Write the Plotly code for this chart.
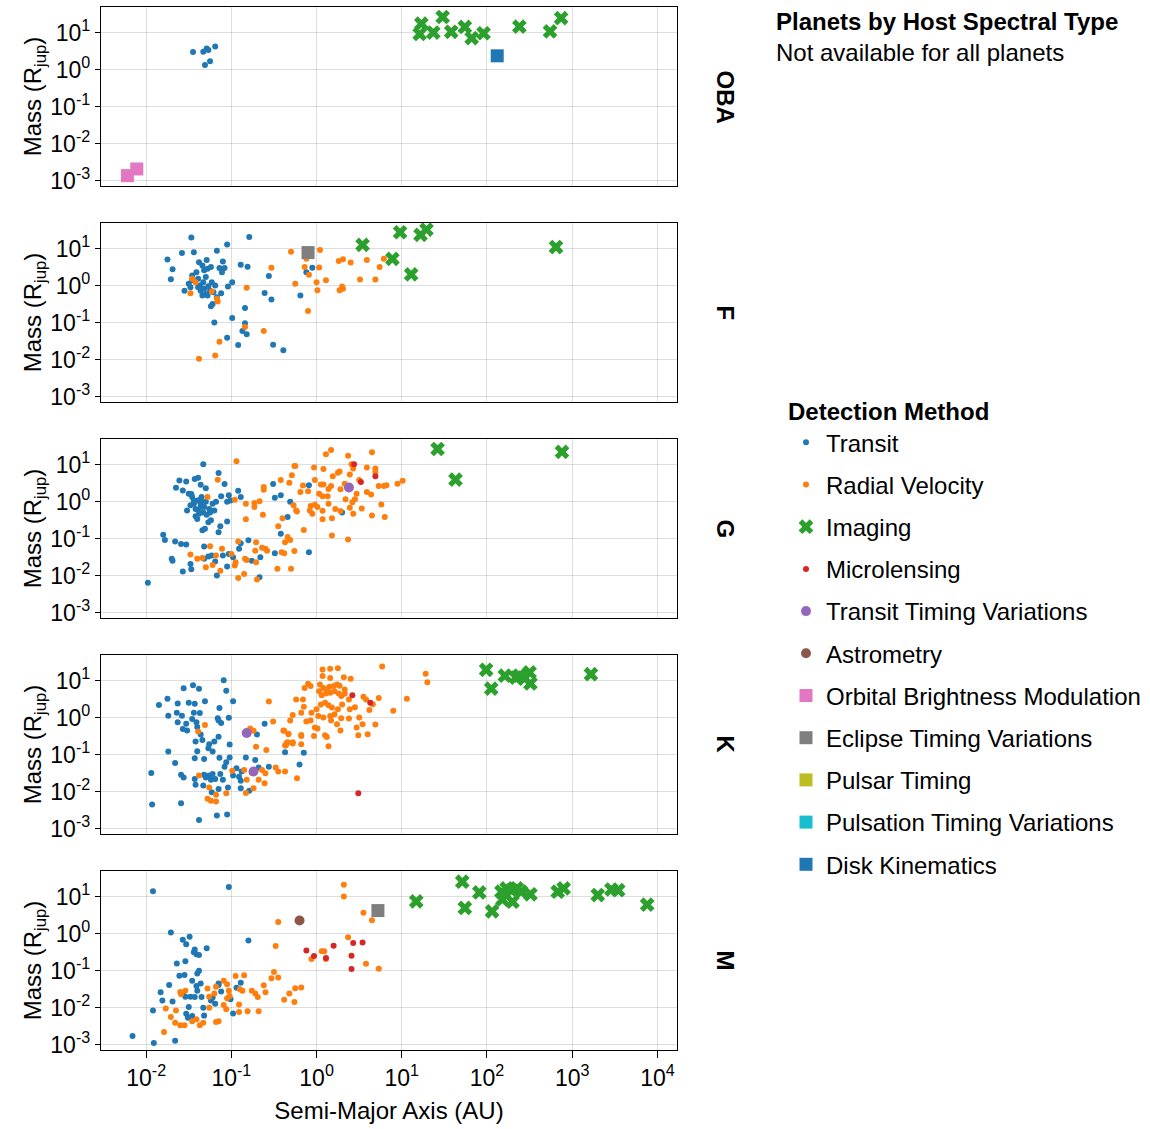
import plotly.graph_objects as go

FONT = "Liberation Sans, Arial, Helvetica, sans-serif"

# Each point: (log10 semi-major axis [AU], log10 mass [M_jup])

# ---------------- OBA hosts ----------------
OBA_TRANSIT = [(-1.45, 0.47), (-1.33, 0.48), (-1.29, 0.57), (-1.27, 0.53), (-1.19, 0.62),
               (-1.31, 0.12), (-1.25, 0.22)]
OBA_IMAGING = [(1.21, 0.96), (1.23, 1.24), (1.37, 1.00), (1.48, 1.42), (1.58, 1.02), (1.74, 1.15),
               (1.82, 0.85), (1.96, 0.98), (2.38, 1.16), (2.74, 1.03), (2.87, 1.39)]
OBA_OBM = [(-2.22, -2.87), (-2.11, -2.69)]
OBA_DISK = [(2.12, 0.37)]

# ---------------- F hosts ----------------
F_TRANSIT = [(-1.47, 1.30), (-0.79, 1.31), (-1.05, 1.11), (-1.58, 0.88), (-1.44, 0.90), (-1.17, 0.94),
             (-1.75, 0.70), (-1.69, 0.44), (-1.71, 0.17), (-1.38, 0.63), (-1.29, 0.69), (-1.10, 0.65),
             (-1.34, 0.54), (-1.24, 0.50), (-1.14, 0.47), (-1.08, 0.47), (-1.11, 0.36), (-0.89, 0.56),
             (-0.81, 0.51), (-0.56, 0.26), (-1.46, 0.27), (-1.39, 0.18), (-1.41, 0.36), (-1.32, 0.41),
             (-1.28, 0.45), (-1.55, -0.14), (-1.48, -0.05), (-1.37, 0.00), (-1.32, -0.09), (-1.30, -0.23),
             (-1.28, -0.27), (-1.23, 0.09), (-1.19, 0.00), (-1.12, -0.21), (-1.17, -0.32), (-0.99, 0.09),
             (-1.04, -0.03), (-1.22, -0.50), (-1.24, -0.56), (-0.84, -0.61), (-0.61, -0.20), (-0.53, -0.38),
             (-0.19, -0.27), (-0.12, 0.36), (-0.05, 0.48), (-1.20, -1.00), (-0.99, -0.88), (-0.84, -1.02),
             (-1.05, -1.41), (-0.92, -1.61), (-0.87, -1.23), (-0.82, -1.32), (-0.51, -1.60), (-0.39, -1.75),
             (-1.34, -0.27), (-1.39, -0.05), (-1.25, -0.14), (-1.21, -0.18), (-1.46, 0.14), (-1.50, 0.05),
             (-1.33, 0.09), (-1.27, -0.02), (-1.36, -0.14), (-1.30, 0.23)]
F_RV = [(-0.30, 0.91), (0.04, 0.96), (-0.12, 0.72), (-0.14, 0.50), (-0.09, 0.29), (0.03, 0.49),
        (-0.53, 0.48), (-0.25, 0.05), (0.00, 0.09), (0.11, 0.14), (0.01, -0.13), (0.26, 0.66),
        (0.31, 0.71), (0.40, 0.62), (0.59, 0.69), (0.79, 0.72), (0.74, 0.50), (0.51, 0.16),
        (0.69, 0.16), (0.27, -0.13), (0.31, -0.09), (0.30, -0.03), (-0.82, -0.06), (-0.10, -0.69),
        (-0.62, -1.23), (-0.84, -1.12), (-1.14, -1.52), (-1.19, -1.89), (-1.38, -1.98), (-1.46, 0.18),
        (-1.42, 0.09), (-1.48, -0.21), (-1.23, -0.16), (-1.17, -0.36), (-1.16, -0.43)]
F_ECLIPSE = [(-0.10, 0.89)]
F_IMAGING = [(0.54, 1.10), (0.98, 1.44), (1.22, 1.37), (1.29, 1.51), (0.89, 0.72), (1.11, 0.30),
             (2.81, 1.04)]

# ---------------- G hosts ----------------
G_TRANSIT = [(-1.33, 1.01), (-1.15, 0.77), (-1.61, 0.57), (-1.53, 0.54), (-1.43, 0.61), (-1.39, 0.64),
             (-1.08, 0.47), (-1.65, 0.37), (-1.57, 0.30), (-1.50, 0.21), (-1.46, 0.12), (-1.40, 0.03),
             (-1.36, -0.06), (-1.32, -0.15), (-1.30, -0.01), (-1.26, -0.20), (-1.52, -0.24), (-1.38, -0.33),
             (-1.40, -0.47), (-1.27, -0.56), (-1.24, -0.51), (-1.34, -0.78), (-1.31, -0.74), (-1.44, -0.06),
             (-1.42, -0.20), (-1.48, -0.10), (-1.35, 0.12), (-1.36, -0.15), (-1.20, -0.24), (-1.22, -0.06),
             (-1.18, -0.01), (-1.12, 0.14), (-1.03, 0.17), (-1.01, 0.03), (-0.92, 0.29), (-0.89, 0.12),
             (-1.05, -0.01), (-1.05, -0.54), (-1.13, -0.67), (-1.15, -0.83), (-1.80, -0.90), (-1.78, -1.04),
             (-1.66, -1.08), (-1.59, -1.15), (-1.53, -1.16), (-1.70, -1.55), (-1.69, -1.60), (-1.57, -1.89),
             (-1.47, -1.83), (-1.48, -1.69), (-1.32, -1.22), (-1.32, -1.55), (-1.27, -1.49), (-1.23, -1.46),
             (-1.19, -1.62), (-1.10, -1.46), (-1.05, -1.76), (-1.17, -2.00), (-1.03, -1.42), (-0.98, -1.51),
             (-0.91, -1.28), (-0.89, -1.13), (-0.80, -1.05), (-0.76, -1.60), (-0.66, -1.51), (-0.67, -2.05),
             (-1.98, -2.20), (-0.51, 0.47), (-0.49, 0.10), (-0.42, 0.17), (-0.31, -0.01), (-0.34, -0.42),
             (-0.42, -0.87), (-0.49, -1.40), (-0.09, -1.37), (-0.09, 0.44), (0.30, -0.30), (-1.44, 0.02),
             (-1.39, -0.22), (-1.33, -0.30), (-1.47, 0.20), (-1.29, -0.36), (-1.42, -0.40), (-1.36, 0.06),
             (-1.25, -0.30), (-1.36, 0.45), (-1.30, 0.36)]
G_RV = [(-0.94, 1.09), (-1.16, 0.59), (-1.28, 0.12), (-0.96, 0.05), (-0.83, -0.06), (-0.73, -0.04),
        (-0.67, 0.01), (-0.73, -0.15), (-0.63, -0.36), (-0.83, -0.48), (-0.62, 0.39), (-0.62, 0.32),
        (-0.42, 0.58), (-0.32, 0.51), (-0.29, 0.71), (-0.26, 0.96), (-0.40, -0.45), (-0.45, -0.67),
        (-0.27, -0.10), (-0.24, -0.24), (-0.37, -1.10), (-0.34, -0.96), (-0.31, -1.04), (-0.26, -1.34),
        (-0.30, -1.82), (-0.46, -1.82), (-0.41, -1.37), (-0.38, -1.40), (-0.60, -1.28), (-0.58, -1.33),
        (-0.64, -1.25), (-0.71, -1.10), (-0.72, -1.33), (-0.71, -1.64), (-0.84, -1.55), (-0.85, -1.96),
        (-0.92, -2.07), (-0.70, -2.11), (-0.96, -1.73), (-0.95, -1.64), (-0.92, -1.08), (-1.00, -1.42),
        (-1.11, -1.28), (-1.13, -1.87), (-1.25, -1.21), (-1.48, -1.43), (-1.40, -1.55), (-1.30, -1.78),
        (-1.22, -1.72), (-1.18, -1.46), (-0.82, -1.58), (-1.34, -1.53),
        (0.11, 1.28), (0.17, 1.39), (0.37, 1.24), (0.65, 1.33), (-0.25, 0.96), (-0.03, 0.92),
        (0.08, 0.88), (0.41, 1.01), (0.59, 0.92), (0.69, 0.89), (0.69, 0.80), (0.43, 0.89),
        (-0.16, 0.43), (-0.02, 0.58), (0.05, 0.46), (0.08, 0.46), (0.17, 0.42), (0.19, 0.68),
        (0.25, 0.78), (0.27, 0.81), (0.39, 0.73), (0.50, 0.58), (-0.19, 0.26), (-0.10, 0.28),
        (0.03, 0.21), (0.07, 0.14), (0.13, 0.14), (0.14, 0.34), (0.28, 0.33), (0.33, 0.48),
        (0.47, 0.21), (0.45, 0.06), (0.34, 0.06), (0.42, -0.02), (0.59, 0.26), (0.64, 0.19),
        (0.73, 0.42), (0.79, 0.42), (0.82, 0.44), (0.95, 0.48), (1.01, 0.56), (0.76, -0.08),
        (0.80, -0.42), (0.65, -0.38), (0.53, -0.19), (0.39, -0.17), (0.43, -0.33), (0.28, -0.26),
        (0.22, -0.20), (0.14, -0.06), (0.07, -0.25), (0.07, -0.48), (0.18, -0.45), (-0.07, -0.12),
        (-0.08, -0.24), (-0.05, -0.33), (-0.02, -0.09), (0.01, -0.15), (0.18, -0.92), (0.37, -1.03),
        (-0.15, -0.77), (-0.23, -0.27)]
G_MICRO = [(0.44, 1.01), (0.52, 0.53), (0.69, 0.68)]
G_TTV = [(0.38, 0.38)]
G_IMAGING = [(1.42, 1.42), (1.63, 0.59), (2.88, 1.34)]

# ---------------- K hosts ----------------
K_TRANSIT = [(-1.09, 1.01), (-1.06, 0.72), (-1.56, 0.79), (-1.45, 0.87), (-1.38, 0.78), (-1.75, 0.51),
             (-1.85, 0.34), (-1.63, 0.38), (-1.50, 0.40), (-1.43, 0.37), (-1.31, 0.44), (-0.98, 0.44),
             (-1.74, 0.05), (-1.64, 0.13), (-1.63, -0.13), (-1.58, 0.05), (-1.57, -0.31), (-1.53, -0.17),
             (-1.52, -0.35), (-1.44, 0.13), (-1.37, 0.12), (-1.46, -0.04), (-1.41, -0.13), (-1.40, -0.26),
             (-1.36, -0.46), (-1.34, -0.61), (-1.42, -0.65), (-1.26, -0.72), (-1.20, -0.65), (-1.15, -0.52),
             (-1.27, -0.83), (-1.22, -0.92), (-1.40, -0.91), (-1.43, -1.10), (-1.32, -1.12), (-1.16, -0.02),
             (-1.15, -0.08), (-1.12, -0.15), (-1.03, -0.01), (-1.14, 0.26), (-1.74, -0.92), (-1.66, -1.23),
             (-1.94, -1.50), (-1.59, -1.55), (-1.56, -1.62), (-1.43, -1.66), (-1.42, -1.82), (-1.32, -1.55),
             (-1.30, -1.62), (-1.26, -1.57), (-1.24, -1.68), (-1.22, -1.53), (-1.19, -1.66), (-1.13, -1.53),
             (-1.10, -1.68), (-1.14, -1.09), (-1.08, -1.33), (-1.06, -1.21), (-1.02, -1.08), (-0.94, -1.37),
             (-0.98, -1.57), (-0.91, -1.60), (-0.88, -1.46), (-0.83, -1.08), (-0.72, -1.15), (-0.68, -1.35),
             (-0.56, -1.33), (-0.89, -1.71), (-0.89, -1.91), (-0.79, -1.98), (-1.04, -1.89), (-1.15, -1.93),
             (-1.23, -2.02), (-1.33, -1.84), (-1.93, -2.35), (-1.59, -2.32), (-1.38, -2.77), (-1.17, -2.65),
             (-1.05, -2.62), (-1.02, -0.73), (-0.61, -0.17), (-0.70, -0.46), (-0.37, -0.94), (-0.15, -0.95),
             (-0.20, -1.27)]
K_RV = [(-0.56, 0.43), (-0.51, -0.11), (-0.39, -0.35), (-0.33, -0.44), (-0.36, -0.76), (-0.34, -0.67),
        (-0.28, -0.67), (-0.18, -0.47), (-0.18, -0.72), (-0.23, -1.64), (-0.28, 0.07), (-0.31, -0.08),
        (-1.31, -0.20), (-1.39, -0.38), (-0.78, -0.30), (-0.74, -0.36), (-0.71, -0.79), (-0.59, -0.88),
        (-0.64, -1.42), (-0.60, -1.51), (-0.61, -1.78), (-0.68, -1.68), (-0.48, -1.35), (-0.37, -1.46),
        (-0.45, -1.46), (-0.74, -1.91), (-0.83, -2.04), (-1.06, -2.05), (-1.18, -2.09), (-1.18, -2.27),
        (-1.28, -2.20), (-1.24, -2.25), (-1.26, -1.89), (-1.38, -1.57), (-0.99, -1.44), (-0.85, -1.42),
        (-0.82, -1.68), (-0.76, -1.50),
        (0.07, 1.30), (0.16, 1.32), (0.25, 1.33), (0.77, 1.38), (1.28, 1.18), (1.30, 0.95),
        (0.07, 1.12), (0.16, 1.07), (0.32, 1.09), (0.40, 1.05), (-0.10, 0.91), (-0.07, 0.85),
        (-0.14, 0.80), (0.04, 0.89), (0.08, 0.80), (0.12, 0.76), (0.15, 0.83), (0.20, 0.85),
        (0.03, 0.71), (0.06, 0.60), (0.11, 0.65), (0.16, 0.67), (0.21, 0.71), (0.26, 0.65),
        (0.29, 0.58), (0.24, 0.89), (0.27, 0.86), (0.33, 0.64), (0.38, 0.49), (0.33, 0.76),
        (0.55, 0.56), (0.58, 0.49), (0.66, 0.36), (0.62, 0.20), (0.73, 0.53), (0.90, 0.18),
        (1.06, 0.51), (0.45, 0.28), (0.39, 0.22), (0.30, 0.35), (0.25, 0.22), (0.18, 0.27),
        (0.14, 0.33), (0.10, 0.40), (0.05, 0.35), (0.00, 0.22), (-0.06, 0.13), (0.02, 0.04),
        (0.08, 0.00), (0.16, 0.04), (0.21, 0.09), (0.29, -0.02), (0.38, -0.03), (0.50, 0.00),
        (0.54, -0.18), (0.60, -0.45), (0.69, -0.19), (0.47, -0.27), (0.49, -0.48), (0.24, -0.18),
        (0.28, -0.35), (0.17, -0.08), (0.10, -0.48), (0.12, -0.53), (0.14, -0.78), (-0.02, -0.27),
        (0.01, -0.30), (-0.03, -0.50), (-0.07, -0.08), (-0.12, -0.11), (-0.18, 0.13), (-0.15, 0.29),
        (-0.16, 0.49), (-0.24, 0.49), (-0.18, -0.50), (-0.28, -0.70), (-0.37, -0.75), (-0.35, -0.68),
        (-0.38, -0.36), (-0.33, -0.45)]
K_MICRO = [(0.42, 0.60), (0.63, 0.40), (0.49, -2.05)]
K_TTV = [(-0.82, -0.42), (-0.74, -1.46)]
K_IMAGING = [(1.99, 1.29), (2.05, 0.78), (2.21, 1.13), (2.34, 1.08), (2.38, 1.13), (2.44, 1.05),
             (2.50, 1.22), (2.51, 0.92), (3.22, 1.17)]

# ---------------- M hosts ----------------
M_TRANSIT = [(-1.92, 1.14), (-1.03, 1.26), (-1.71, 0.03), (-1.57, -0.17), (-1.53, -0.29), (-1.49, -0.09),
             (-1.43, -0.43), (-1.41, -0.56), (-1.38, -0.58), (-1.44, -0.51), (-1.29, -0.40), (-0.80, -0.19),
             (-1.64, -0.81), (-1.54, -0.75), (-1.40, -1.08), (-1.38, -1.01), (-1.61, -1.14), (-1.55, -1.12),
             (-1.73, -1.39), (-1.83, -1.59), (-1.81, -1.81), (-1.92, -2.08), (-1.69, -1.84), (-1.57, -1.62),
             (-1.54, -1.71), (-1.48, -1.71), (-1.43, -1.72), (-1.35, -1.72), (-1.46, -1.28), (-1.41, -1.42),
             (-1.36, -1.35), (-1.40, -1.55), (-1.50, -1.99), (-1.53, -2.17), (-1.46, -2.23), (-1.51, -2.28),
             (-1.32, -2.22), (-1.33, -2.01), (-1.24, -1.81), (-1.19, -1.90), (-1.22, -1.73), (-1.15, -1.35),
             (-1.15, -1.39), (-1.12, -1.57), (-1.01, -1.78), (-0.98, -2.16), (-0.94, -1.47), (-0.89, -1.33),
             (-2.16, -2.77), (-1.91, -2.96), (-1.66, -2.90)]
M_RV = [(0.32, 1.32), (0.32, 1.00), (-0.45, 0.31), (-0.48, -0.34), (0.37, -0.10), (0.06, -0.48),
        (0.09, -0.48), (-0.06, -0.69), (0.11, -0.69), (-0.50, -1.04), (-0.53, -1.21), (-0.45, -1.19),
        (-0.62, -1.40), (-0.60, -1.59), (-0.69, -1.72), (-0.76, -1.55), (-0.72, -1.62), (-0.85, -1.13),
        (-0.95, -1.15), (-0.90, -1.51), (-0.87, -1.55), (-1.09, -1.28), (-1.05, -1.37), (-1.03, -1.55),
        (-1.02, -1.69), (-1.05, -1.75), (-1.09, -1.93), (-1.06, -2.05), (-1.18, -1.44), (-1.20, -1.62),
        (-1.26, -1.71), (-1.28, -1.49), (-0.91, -1.92), (-0.91, -2.12), (-0.81, -2.10), (-0.68, -2.10),
        (-1.18, -2.39), (-1.15, -2.37), (-1.33, -2.41), (-1.37, -2.48), (-1.46, -2.37), (-1.55, -2.48),
        (-1.60, -2.48), (-1.66, -2.41), (-1.71, -2.26), (-1.79, -2.66), (-1.77, -2.03), (-1.65, -2.08),
        (-1.60, -1.58), (-1.54, -1.55), (-1.59, -1.64), (-1.41, -2.32), (-1.26, -2.01), (-0.18, -1.46),
        (-0.25, -1.48), (-0.32, -1.62), (-0.38, -1.79), (-0.26, -1.85), (0.55, 0.56), (0.65, 0.36),
        (0.58, -0.82), (0.73, -0.95)]
M_MICRO = [(-0.12, -0.46), (-0.03, -0.61), (0.11, -0.66), (0.20, -0.33), (0.43, -0.26), (0.54, -0.24),
           (0.41, -0.60), (0.41, -0.96)]
M_ASTROMETRY = [(-0.20, 0.35)]
M_ECLIPSE = [(0.72, 0.62)]
M_IMAGING = [(1.17, 0.87), (1.71, 1.40), (1.74, 0.69), (1.91, 1.11), (2.06, 0.60), (2.17, 1.13),
             (2.23, 1.22), (2.29, 1.17), (2.35, 1.22), (2.40, 1.13), (2.18, 0.92), (2.30, 0.86),
             (2.51, 1.06), (2.83, 1.13), (2.90, 1.22), (3.30, 1.04), (3.46, 1.19), (3.54, 1.17),
             (3.88, 0.78)]

SPECTRAL_TYPES = ["OBA", "F", "G", "K", "M"]

PANEL_DATA = {
    "OBA": {"Transit": OBA_TRANSIT, "Imaging": OBA_IMAGING,
            "Orbital Brightness Modulation": OBA_OBM, "Disk Kinematics": OBA_DISK},
    "F": {"Transit": F_TRANSIT, "Radial Velocity": F_RV, "Imaging": F_IMAGING,
          "Eclipse Timing Variations": F_ECLIPSE},
    "G": {"Transit": G_TRANSIT, "Radial Velocity": G_RV, "Imaging": G_IMAGING,
          "Microlensing": G_MICRO, "Transit Timing Variations": G_TTV},
    "K": {"Transit": K_TRANSIT, "Radial Velocity": K_RV, "Imaging": K_IMAGING,
          "Microlensing": K_MICRO, "Transit Timing Variations": K_TTV},
    "M": {"Transit": M_TRANSIT, "Radial Velocity": M_RV, "Imaging": M_IMAGING,
          "Microlensing": M_MICRO, "Astrometry": M_ASTROMETRY,
          "Eclipse Timing Variations": M_ECLIPSE},
}

# method -> (colour, symbol, marker size)
METHOD_STYLE = {
    "Transit": ("#1f77b4", "circle", 6),
    "Radial Velocity": ("#ff7f0e", "circle", 6),
    "Imaging": ("#2ca02c", "x", 13),
    "Microlensing": ("#d62728", "circle", 6),
    "Transit Timing Variations": ("#9467bd", "circle", 10),
    "Astrometry": ("#8c564b", "circle", 10),
    "Orbital Brightness Modulation": ("#e377c2", "square", 13),
    "Eclipse Timing Variations": ("#7f7f7f", "square", 13),
    "Pulsar Timing": ("#bcbd22", "square", 13),
    "Pulsation Timing Variations": ("#17becf", "square", 13),
    "Disk Kinematics": ("#1f77b4", "square", 13),
}

W, H = 1150, 1129
PANEL_TOPS = [7, 223, 439, 655, 871]
PANEL_H = 179
X_DOMAIN = [101 / W, 677 / W]
X_RANGE = [-2.53, 4.23]
Y_RANGE = [-3.15, 1.69]

fig = go.Figure()

for method, (color, symbol, size) in METHOD_STYLE.items():
    first = True
    for i, st in enumerate(SPECTRAL_TYPES):
        pts = PANEL_DATA[st].get(method)
        if not pts:
            continue
        n = "" if i == 0 else str(i + 1)
        fig.add_trace(go.Scatter(
            x=[10 ** a for a, m in pts], y=[10 ** m for a, m in pts],
            mode="markers", name=method, legendgroup=method, showlegend=first,
            marker=dict(color=color, symbol=symbol, size=size, line=dict(width=0)),
            xaxis="x" + n, yaxis="y" + n,
        ))
        first = False
    if first:
        # method without detections in these panels: legend entry only
        fig.add_trace(go.Scatter(
            x=[None], y=[None], mode="markers", name=method, legendgroup=method,
            marker=dict(color=color, symbol=symbol, size=size, line=dict(width=0)),
            xaxis="x", yaxis="y",
        ))

x_ticks = [10.0 ** k for k in range(-2, 5)]
x_text = ["10<sup>%d</sup>" % k for k in range(-2, 5)]
y_ticks = [10.0 ** k for k in range(-3, 2)]
y_text = ["10<sup>%d</sup>" % k for k in range(-3, 2)]

axis_common = dict(
    type="log", showline=True, linecolor="black", linewidth=1.4, mirror=True,
    showgrid=True, gridcolor="rgba(0,0,0,0.13)", gridwidth=1, zeroline=False,
    tickfont=dict(family=FONT, size=23, color="black"), automargin=False,
)

layout = dict(
    width=W, height=H, margin=dict(l=0, r=0, t=0, b=0),
    paper_bgcolor="white", plot_bgcolor="white",
    font=dict(family=FONT, color="black"),
    showlegend=True,
)

for i, st in enumerate(SPECTRAL_TYPES):
    n = "" if i == 0 else str(i + 1)
    top = PANEL_TOPS[i]
    dom = [1 - (top + PANEL_H) / H, 1 - top / H]
    last = i == len(SPECTRAL_TYPES) - 1
    xa = dict(axis_common, domain=X_DOMAIN, range=X_RANGE, anchor="y" + n,
              tickvals=x_ticks, ticktext=x_text, showticklabels=last,
              ticks="outside" if last else "", ticklen=7 if last else 5, tickcolor="black")
    if last:
        xa["title"] = dict(text="Semi-Major Axis (AU)", font=dict(family=FONT, size=24), standoff=12)
    if i > 0:
        xa["matches"] = "x"
    ya = dict(axis_common, domain=dom, range=Y_RANGE, anchor="x" + n,
              tickvals=y_ticks, ticktext=y_text, ticks="outside", ticklen=5, tickcolor="black",
              title=dict(text="Mass (R<sub>jup</sub>)", font=dict(family=FONT, size=24), standoff=0))
    layout["xaxis" + n] = xa
    layout["yaxis" + n] = ya

annotations = []
for i, st in enumerate(SPECTRAL_TYPES):
    top = PANEL_TOPS[i]
    annotations.append(dict(
        text="<b>%s</b>" % st, xref="paper", yref="paper",
        x=725 / W, y=1 - (top + PANEL_H / 2) / H, xanchor="center", yanchor="middle",
        textangle=90, showarrow=False, font=dict(family=FONT, size=24, color="black"),
    ))
annotations.append(dict(
    text="<b>Planets by Host Spectral Type</b>", xref="paper", yref="paper",
    x=774 / W, y=1 - 22 / H, xanchor="left", yanchor="middle", showarrow=False,
    font=dict(family=FONT, size=24, color="black"),
))
annotations.append(dict(
    text="Not available for all planets", xref="paper", yref="paper",
    x=774 / W, y=1 - 52 / H, xanchor="left", yanchor="middle", showarrow=False,
    font=dict(family=FONT, size=24, color="black"),
))
layout["annotations"] = annotations

layout["legend"] = dict(
    x=786 / W, y=1 - 389 / H, xanchor="left", yanchor="top",
    title=dict(text="<b>Detection Method</b>", font=dict(family=FONT, size=24)),
    font=dict(family=FONT, size=24, color="black"),
    traceorder="grouped", tracegroupgap=8, bgcolor="rgba(0,0,0,0)",
    itemsizing="trace",
)

fig.update_layout(**layout)
fig.write_html("out.html")
